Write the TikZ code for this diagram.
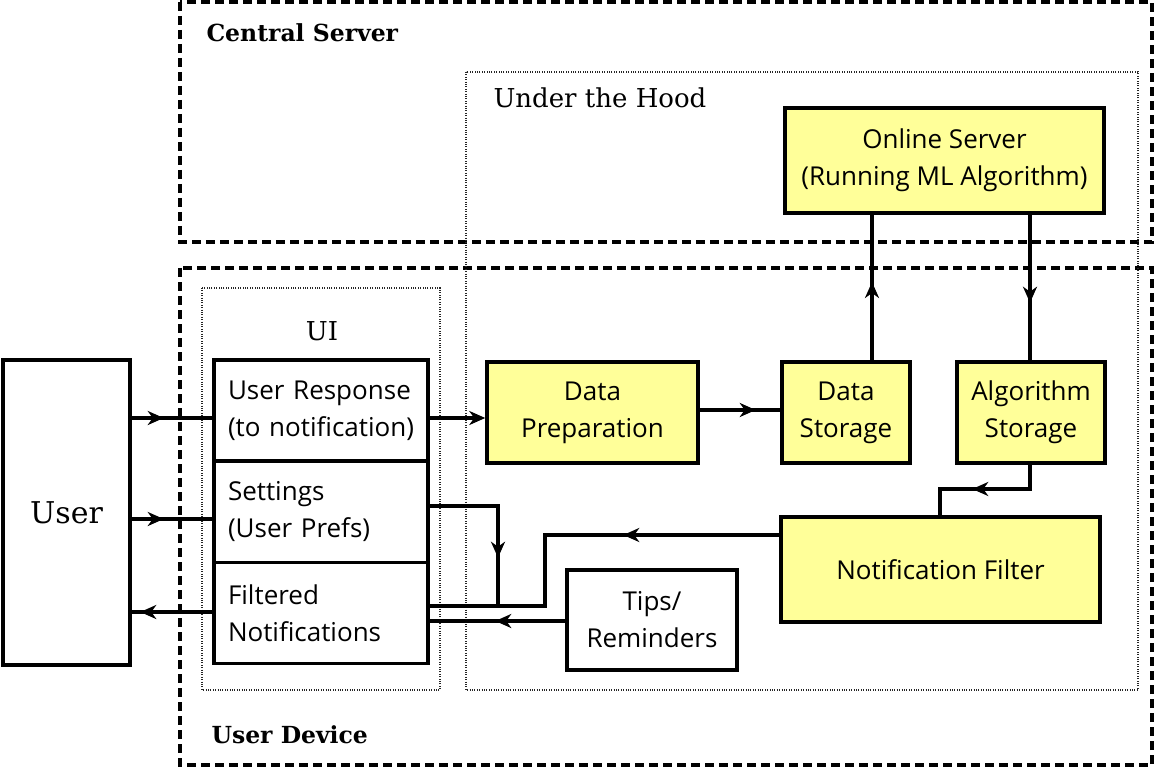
\documentclass[tikz,border=0pt]{standalone}
\usepackage{fontspec}
\setmainfont{Open Sans}
\newfontfamily\slab{DejaVu Serif}
\usetikzlibrary{arrows.meta,decorations.markings}

\definecolor{boxyellow}{RGB}{255,255,153}

\tikzset{
  box/.style={draw, line width=3.5pt, align=center, inner sep=0pt,
    font=\fontsize{26}{37}\selectfont},
  ybox/.style={box, fill=boxyellow},
  wbox/.style={box, fill=white},
  uibox/.style={box, fill=white, align=left, text width=186pt, inner xsep=14pt,
    minimum height=101pt},
  frame/.style={line width=3.5pt, dash pattern=on 9pt off 5pt},
  hood/.style={line width=1.6pt, black!85, dash pattern=on 1pt off 1.4pt},
  title/.style={font=\slab\bfseries\fontsize{23.5}{28}\selectfont, anchor=base west},
  link/.style={line width=3.5pt},
  arrowat/.style={postaction={decorate, decoration={markings,
    mark=at position #1 with {\arrow{Stealth[length=16pt, width=14pt, inset=5pt]}}}}}
}

\begin{document}
\begin{tikzpicture}[x=1pt, y=-1pt]
\useasboundingbox (0,0) rectangle (1155,767);

% frames
\draw[frame] (180,2) rectangle (1152,242);
\draw[frame] (180,268) rectangle (1152,765);
\draw[hood] (466,72) rectangle (1138,690);
\draw[hood] (202,288) rectangle (440,690);

\node[title] (cs) at (203,42) {Central Server};
\node[title] (ud) at (208,743) {User Device};
\node[anchor=base west, font=\slab\fontsize{26}{30}\selectfont] (uth) at (490,108) {Under the Hood};
\node[anchor=base, font=\slab\fontsize{26}{30}\selectfont] (ui) at (322,340) {UI};

% boxes
\node[wbox, minimum width=127pt, minimum height=305pt, font=\slab\fontsize{30}{34}\selectfont] (user) at (66.5,512.5) {User};

\node[uibox] (resp) at (321,410.5) {User Response\\(to notification)};
\node[uibox] (sett) at (321,512) {Settings\\(User Prefs)};
\node[uibox] (filt) at (321,613) {Filtered\\Notifications};

\node[ybox, minimum width=211pt, minimum height=101pt] (prep) at (592.5,412.5) {Data\\Preparation};
\node[ybox, minimum width=128pt, minimum height=101pt] (dstore) at (846,412.5) {Data\\Storage};
\node[ybox, minimum width=148pt, minimum height=101pt] (astore) at (1031,412.5) {Algorithm\\Storage};
\node[ybox, minimum width=319pt, minimum height=105pt] (online) at (944.5,160.5) {Online Server\\(Running ML Algorithm)};
\node[ybox, minimum width=319pt, minimum height=105pt] (nfilt) at (940.5,569.5) {Notification Filter};
\node[wbox, minimum width=170pt, minimum height=100pt] (tips) at (652,620) {Tips/\\Reminders};

% connectors
\draw[link, arrowat=32pt] (user.east |- 0,418) -- (resp.west |- 0,418);
\draw[link, arrowat=32pt] (user.east |- 0,519) -- (sett.west |- 0,519);
\draw[link, arrowat=72pt] (filt.west |- 0,612) -- (user.east |- 0,612);

\draw[link, -{Stealth[length=16pt, width=14pt, inset=5pt]}] (resp.east |- 0,418) -- (prep.west |- 0,418);
\draw[link, arrowat=56pt] (prep.east |- 0,410) -- (dstore.west |- 0,410);
\draw[link, arrowat=80pt] (872,362) -- (online.south -| 872,0);
\draw[link, arrowat=88pt] (online.south -| 1030,0) -- (astore.north -| 1030,0);

\coordinate (bend1) at (1030,489);
\coordinate (bend2) at (940,489);
\draw[link, arrowat=82pt] (astore.south -| bend1) -- (bend1) -- (bend2) -- (nfilt.north -| bend2);

\coordinate (bend3) at (545,535);
\coordinate (bend4) at (545,606);
\draw[link, arrowat=156pt] (nfilt.west |- bend3) -- (bend3) -- (bend4) -- (filt.east |- bend4);

\coordinate (bend5) at (498,506);
\coordinate (join) at (498,606);
\draw[link, arrowat=120pt] (sett.east |- bend5) -- (bend5) -- (join);

\draw[link, arrowat=70pt] (tips.west |- 0,621) -- (filt.east |- 0,621);

\end{tikzpicture}
\end{document}
